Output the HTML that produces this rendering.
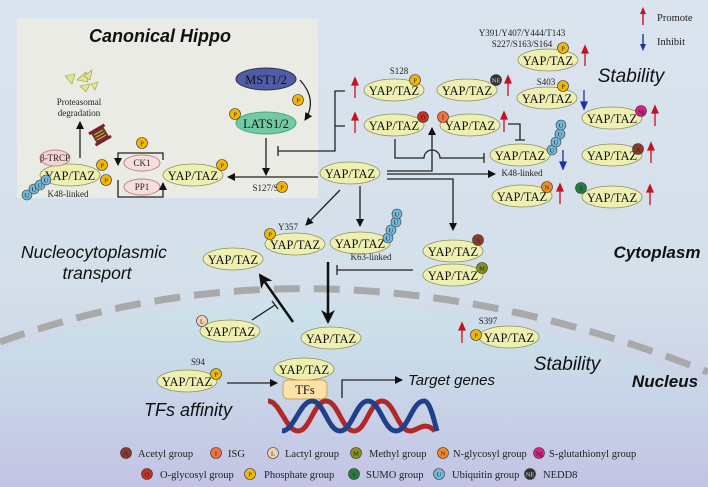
<!DOCTYPE html>
<html><head><meta charset="utf-8"><style>
html,body{margin:0;padding:0;width:708px;height:487px;overflow:hidden;background:#dbe4ee}
svg{display:block}
.y{fill:#eef0b2;stroke:#8f8f60;stroke-width:.8}
.t{font-family:"Liberation Serif",serif;font-size:12.5px;fill:#111;text-anchor:middle}
.s{font-family:"Liberation Serif",serif;font-size:9px;fill:#222;text-anchor:middle}
.b{font-family:"Liberation Serif",serif;font-size:6.5px;fill:#222;text-anchor:middle}
.i{font-family:"Liberation Sans",sans-serif;font-style:italic;fill:#111}
.l{font-family:"Liberation Serif",serif;font-size:10.5px;fill:#222}
.ln{stroke:#222;stroke-width:1.3;fill:none}
</style></head><body>
<svg width="708" height="487" viewBox="0 0 708 487" xmlns="http://www.w3.org/2000/svg">
<defs>
<linearGradient id="bg" x1="0" y1="0" x2="0" y2="1">
<stop offset="0" stop-color="#dbe4ee"/><stop offset="0.6" stop-color="#d3dfea"/><stop offset="1" stop-color="#c4c4e4"/></linearGradient>
<linearGradient id="nu" x1="0" y1="0" x2="0" y2="1">
<stop offset="0" stop-color="#cde2ea"/><stop offset="0.4" stop-color="#c9d8e8"/><stop offset="1" stop-color="#c3c3e4"/></linearGradient>
<marker id="a" markerWidth="8" markerHeight="8" refX="7" refY="4" orient="auto" markerUnits="userSpaceOnUse"><path d="M0,0 L8,4 L0,8 Z" fill="#111"/></marker>
<marker id="A" markerWidth="14" markerHeight="14" refX="12" refY="7" orient="auto" markerUnits="userSpaceOnUse"><path d="M0,0 L14,7 L0,14 L4,7 Z" fill="#111"/></marker>
</defs>
<rect width="708" height="487" fill="url(#bg)"/>
<path d="M0,352 Q330,240 708,386 L708,487 L0,487 Z" fill="url(#nu)"/>
<path d="M0,342 Q330,222 708,372" fill="none" stroke="#a9a9a9" stroke-width="7" stroke-dasharray="26 14"/>

<!-- Canonical Hippo box -->
<rect x="17" y="19" width="301" height="179" fill="#ebebe5"/>
<text x="160" y="42" class="i" font-size="18" font-weight="bold" text-anchor="middle">Canonical Hippo</text>
<ellipse cx="266" cy="79" rx="30" ry="11" fill="#4f5da8" stroke="#334"/><text x="266" y="84" class="t" fill="#fff">MST1/2</text>
<ellipse cx="266" cy="123" rx="30" ry="11" fill="#73c9a3" stroke="#4a8"/><text x="266" y="128" class="t">LATS1/2</text>
<path d="M300,80 Q318,100 305,120" class="ln" marker-end="url(#a)"/>
<path d="M266,138 L266,175" class="ln" marker-end="url(#a)"/>
<path d="M345,91 L335,91 L335,151 L278,151 M278,146 L278,156 M335,126 L345,126" class="ln"/>
<path d="M318,177 L228,177" class="ln" marker-end="url(#a)"/>
<ellipse cx="193" cy="175" rx="30" ry="11" class="y"/><text x="193" y="180" class="t">YAP/TAZ</text>
<text x="270" y="191" class="s">S127/S89</text>
<ellipse cx="142" cy="163" rx="18" ry="8" fill="#f6dede" stroke="#b88"/><text x="142" y="166" class="s">CK1</text>
<ellipse cx="142" cy="187" rx="18" ry="8" fill="#f6dede" stroke="#b88"/><text x="142" y="190" class="s">PP1</text>
<path d="M163,160 L163,153 L118,153 L118,165" class="ln" marker-end="url(#a)"/>
<path d="M118,180 L118,197 L163,197 L163,183" class="ln" marker-end="url(#a)"/>
<ellipse cx="70" cy="175" rx="30" ry="11" class="y"/><text x="70" y="180" class="t">YAP/TAZ</text>
<ellipse cx="55" cy="158" rx="15" ry="8" fill="#f6d2d2" stroke="#b88"/><text x="55" y="161" class="s">β-TRCP</text>
<text x="68" y="197" class="s" font-size="10">K48-linked</text>
<path d="M80,158 L80,122" class="ln" marker-end="url(#a)"/>
<text x="79" y="105" class="s">Proteasomal</text><text x="79" y="116" class="s">degradation</text>
<g fill="#e0e88a" stroke="#9a9a50" stroke-width=".6"><path d="M65,76 L75,74 L72,84 Z"/><path d="M77,80 L86,72 L88,82 Z"/><path d="M84,76 L92,70 L90,80 Z"/><path d="M80,86 L90,84 L86,92 Z"/><path d="M91,84 L98,82 L95,90 Z"/></g>
<g transform="rotate(-30 100 135)"><rect x="93" y="128" width="14" height="14" fill="#6a3a20"/><rect x="91" y="127" width="18" height="3" fill="#7a2030"/><rect x="91" y="140" width="18" height="3" fill="#7a2030"/><path d="M95,132 h10 M95,135 h10 M95,138 h10" stroke="#e0b060" stroke-width="1"/></g>

<!-- right arrows -->
<path d="M387,171 L432,171 L432,128" class="ln" marker-end="url(#a)"/>
<path d="M387,174 L495,174" class="ln" marker-end="url(#a)"/>
<path d="M387,179 L453,179 L453,230" class="ln" marker-end="url(#a)"/>
<path d="M395,139 L395,158 L424,158 A8,8 0 0 1 440,158 L484,158 M484,153 L484,163" class="ln"/>
<path d="M508,124 L520,124 L520,140 M515,140 L525,140" class="ln"/>
<path d="M340,190 L306,225" class="ln" marker-end="url(#a)"/>
<path d="M360,186 L360,226" class="ln" marker-end="url(#a)"/>

<!-- legend top -->
<g stroke="#c81020" stroke-width="1.4"><path d="M643,25 L643,13"/></g><path d="M640,14 L643,7 L646,14 Z" fill="#c81020"/>
<text x="657" y="21" class="l" font-size="12">Promote</text>
<path d="M643,34 L643,45" stroke="#2030a0" stroke-width="1.4"/><path d="M640,44 L643,51 L646,44 Z" fill="#2030a0"/>
<text x="657" y="45" class="l" font-size="12">Inhibit</text>

<text x="522" y="36" class="s">Y391/Y407/Y444/T143</text>
<text x="522" y="47" class="s">S227/S163/S164</text>
<text x="631" y="82" class="i" font-size="19" text-anchor="middle">Stability</text>
<text x="399" y="74" class="s">S128</text>
<text x="546" y="85" class="s">S403</text>
<text x="522" y="176" class="s">K48-linked</text>

<!-- YAP/TAZ ellipses -->
<g>
<ellipse cx="350" cy="173" rx="30" ry="11" class="y"/><text x="350" y="178" class="t">YAP/TAZ</text>
<ellipse cx="548" cy="60" rx="30" ry="11" class="y"/><text x="548" y="65" class="t">YAP/TAZ</text>
<ellipse cx="394" cy="90" rx="30" ry="11" class="y"/><text x="394" y="95" class="t">YAP/TAZ</text>
<ellipse cx="467" cy="90" rx="30" ry="11" class="y"/><text x="467" y="95" class="t">YAP/TAZ</text>
<ellipse cx="547" cy="98" rx="30" ry="11" class="y"/><text x="547" y="103" class="t">YAP/TAZ</text>
<ellipse cx="612" cy="118" rx="30" ry="11" class="y"/><text x="612" y="123" class="t">YAP/TAZ</text>
<ellipse cx="394" cy="125" rx="30" ry="11" class="y"/><text x="394" y="130" class="t">YAP/TAZ</text>
<ellipse cx="470" cy="125" rx="30" ry="11" class="y"/><text x="470" y="130" class="t">YAP/TAZ</text>
<ellipse cx="520" cy="155" rx="30" ry="11" class="y"/><text x="520" y="160" class="t">YAP/TAZ</text>
<ellipse cx="612" cy="155" rx="30" ry="11" class="y"/><text x="612" y="160" class="t">YAP/TAZ</text>
<ellipse cx="522" cy="196" rx="30" ry="11" class="y"/><text x="522" y="201" class="t">YAP/TAZ</text>
<ellipse cx="612" cy="197" rx="30" ry="11" class="y"/><text x="612" y="202" class="t">YAP/TAZ</text>
<ellipse cx="295" cy="244" rx="30" ry="11" class="y"/><text x="295" y="249" class="t">YAP/TAZ</text>
<ellipse cx="360" cy="243" rx="30" ry="11" class="y"/><text x="360" y="248" class="t">YAP/TAZ</text>
<ellipse cx="233" cy="259" rx="30" ry="11" class="y"/><text x="233" y="264" class="t">YAP/TAZ</text>
<ellipse cx="453" cy="251" rx="30" ry="11" class="y"/><text x="453" y="256" class="t">YAP/TAZ</text>
<ellipse cx="453" cy="275" rx="30" ry="11" class="y"/><text x="453" y="280" class="t">YAP/TAZ</text>
<ellipse cx="230" cy="331" rx="30" ry="11" class="y"/><text x="230" y="336" class="t">YAP/TAZ</text>
<ellipse cx="331" cy="338" rx="30" ry="11" class="y"/><text x="331" y="343" class="t">YAP/TAZ</text>
<ellipse cx="509" cy="337" rx="30" ry="11" class="y"/><text x="509" y="342" class="t">YAP/TAZ</text>
<ellipse cx="187" cy="381" rx="30" ry="11" class="y"/><text x="187" y="386" class="t">YAP/TAZ</text>
<ellipse cx="304" cy="369" rx="30" ry="11" class="y"/><text x="304" y="374" class="t">YAP/TAZ</text>
</g>

<!-- red/blue arrows -->
<g fill="#c81020" stroke="#c81020" stroke-width="1.3">
<path d="M585,66 V52" /><path d="M582,53 L585,46 L588,53Z"/>
<path d="M355,98 V84"/><path d="M352,85 L355,78 L358,85Z"/>
<path d="M508,96 V82"/><path d="M505,83 L508,76 L511,83Z"/>
<path d="M655,126 V112"/><path d="M652,113 L655,106 L658,113Z"/>
<path d="M355,133 V119"/><path d="M352,120 L355,113 L358,120Z"/>
<path d="M504,132 V118"/><path d="M501,119 L504,112 L507,119Z"/>
<path d="M651,163 V149"/><path d="M648,150 L651,143 L654,150Z"/>
<path d="M560,204 V190"/><path d="M557,191 L560,184 L563,191Z"/>
<path d="M650,205 V191"/><path d="M647,192 L650,185 L653,192Z"/>
<path d="M462,343 V329"/><path d="M459,330 L462,323 L465,330Z"/>
</g>
<g fill="#2030a0" stroke="#2030a0" stroke-width="1.3">
<path d="M584,90 V103"/><path d="M581,102 L584,109 L587,102Z"/>
<path d="M563,150 V163"/><path d="M560,162 L563,169 L566,162Z"/>
</g>

<!-- badges -->
<g stroke="#333" stroke-width=".6">
<g fill="#f0b800"><circle cx="298" cy="100" r="5.5"/><circle cx="235" cy="114" r="5.5"/><circle cx="222" cy="165" r="5.5"/><circle cx="282" cy="187" r="5.5"/><circle cx="142" cy="143" r="5.5"/><circle cx="102" cy="165" r="5.5"/><circle cx="106" cy="180" r="5.5"/><circle cx="563" cy="48" r="5.5"/><circle cx="415" cy="80" r="5.5"/><circle cx="563" cy="86" r="5.5"/><circle cx="270" cy="234" r="5.5"/><circle cx="476" cy="335" r="5.5"/><circle cx="216" cy="374" r="5.5"/></g>
<circle cx="496" cy="80" r="5.5" fill="#333"/>
<circle cx="641" cy="111" r="5.5" fill="#e0208a"/>
<circle cx="423" cy="117" r="5.5" fill="#c83020"/>
<circle cx="443" cy="117" r="5.5" fill="#f07040"/>
<circle cx="638" cy="149" r="5.5" fill="#8b3a2a"/>
<circle cx="547" cy="187" r="5.5" fill="#f08a20"/>
<circle cx="581" cy="188" r="5.5" fill="#208040"/>
<circle cx="478" cy="240" r="5.5" fill="#8b3a2a"/>
<circle cx="482" cy="268" r="5.5" fill="#8a9020"/>
<circle cx="202" cy="321" r="5.5" fill="#f0d0b0"/>
<g fill="#72b8d8"><circle cx="27" cy="195" r="5"/><circle cx="34" cy="189" r="5"/><circle cx="40" cy="185" r="5"/><circle cx="46" cy="180" r="5"/>
<circle cx="552" cy="150" r="5"/><circle cx="556" cy="142" r="5"/><circle cx="560" cy="134" r="5"/><circle cx="561" cy="125" r="5"/>
<circle cx="388" cy="238" r="5"/><circle cx="391" cy="230" r="5"/><circle cx="396" cy="222" r="5"/><circle cx="397" cy="214" r="5"/></g>
</g>
<g class="b">
<text x="298" y="102.5">P</text><text x="235" y="116.5">P</text><text x="222" y="167.5">P</text><text x="282" y="189.5">P</text><text x="142" y="145.5">P</text><text x="102" y="167.5">P</text><text x="106" y="182.5">P</text><text x="563" y="50.5">P</text><text x="415" y="82.5">P</text><text x="563" y="88.5">P</text><text x="270" y="236.5">P</text><text x="476" y="337.5">P</text><text x="216" y="376.5">P</text>
<text x="496" y="82.5" fill="#ddd">NE</text><text x="641" y="113.5">Sg</text><text x="423" y="119.5">O</text><text x="443" y="119.5">I</text><text x="638" y="151.5">A</text><text x="547" y="189.5">N</text><text x="581" y="190.5">S</text><text x="478" y="242.5">A</text><text x="482" y="270.5">M</text><text x="202" y="323.5">L</text>
<text x="27" y="197.5">U</text><text x="34" y="191.5">U</text><text x="40" y="187.5">U</text><text x="46" y="182.5">U</text>
<text x="552" y="152.5">U</text><text x="556" y="144.5">U</text><text x="560" y="136.5">U</text><text x="561" y="127.5">U</text>
<text x="388" y="240.5">U</text><text x="391" y="232.5">U</text><text x="396" y="224.5">U</text><text x="397" y="216.5">U</text>
</g>

<!-- middle labels -->
<text x="288" y="230" class="s">Y357</text>
<text x="371" y="260" class="s">K63-linked</text>
<text x="657" y="258" class="i" font-size="17" font-weight="bold" text-anchor="middle">Cytoplasm</text>
<text x="94" y="258" class="i" font-size="17.5" text-anchor="middle">Nucleocytoplasmic</text>
<text x="97" y="279" class="i" font-size="17.5" text-anchor="middle">transport</text>
<path d="M328,262 L328,322" stroke="#111" stroke-width="2.5" fill="none" marker-end="url(#A)"/>
<path d="M413,270 L337,270 M337,265 L337,275" class="ln"/>
<path d="M293,322 L260,275" stroke="#111" stroke-width="2.5" fill="none" marker-end="url(#A)"/>
<path d="M252,320 L275,305 M272,301 L278,309" class="ln"/>
<text x="488" y="324" class="s">S397</text>
<text x="567" y="370" class="i" font-size="19" text-anchor="middle">Stability</text>
<text x="665" y="387" class="i" font-size="17" font-weight="bold" text-anchor="middle">Nucleus</text>
<text x="198" y="365" class="s">S94</text>
<path d="M227,383 L277,383" class="ln" marker-end="url(#a)"/>
<rect x="283" y="380" width="44" height="19" rx="5" fill="#fde2a8" stroke="#c9a060"/><text x="305" y="394" class="t">TFs</text>
<path d="M342,398 L342,380 L402,380" class="ln" marker-end="url(#a)"/>
<text x="408" y="385" class="i" font-size="15">Target genes</text>
<text x="188" y="416" class="i" font-size="18" text-anchor="middle">TFs affinity</text>
<!-- DNA -->
<path d="M268,401 C280,401 286,431 298,431 C310,431 314,401 326,401 C338,401 342,431 354,431 C366,431 370,401 382,401 C394,401 398,431 410,431 C418,431 424,420 435,431" fill="none" stroke="#b02828" stroke-width="5"/>
<path d="M282,431 C294,431 300,401 312,401 C324,401 328,431 340,431 C352,431 356,401 368,401 C380,401 384,431 396,431 C408,431 412,401 424,401 C430,401 434,420 437,431" fill="none" stroke="#20408c" stroke-width="5"/>

<!-- legend bottom -->
<g stroke="#333" stroke-width=".6">
<circle cx="126" cy="453" r="5.5" fill="#8b3a2a"/><circle cx="216" cy="453" r="5.5" fill="#f07040"/><circle cx="273" cy="453" r="5.5" fill="#f0d0b0"/><circle cx="356" cy="453" r="5.5" fill="#8a9020"/><circle cx="443" cy="453" r="5.5" fill="#f08a20"/><circle cx="539" cy="453" r="5.5" fill="#e0208a"/>
<circle cx="147" cy="474" r="5.5" fill="#c83020"/><circle cx="250" cy="474" r="5.5" fill="#f0b800"/><circle cx="354" cy="474" r="5.5" fill="#208040"/><circle cx="439" cy="474" r="5.5" fill="#72b8d8"/><circle cx="530" cy="474" r="5.5" fill="#333"/>
</g>
<g class="b"><text x="126" y="455.5">A</text><text x="216" y="455.5">I</text><text x="273" y="455.5">L</text><text x="356" y="455.5">M</text><text x="443" y="455.5">N</text><text x="539" y="455.5">Sg</text><text x="147" y="476.5">O</text><text x="250" y="476.5">P</text><text x="354" y="476.5">S</text><text x="439" y="476.5">U</text><text x="530" y="476.5" fill="#ddd">NE</text></g>
<g class="l">
<text x="138" y="457">Acetyl group</text><text x="228" y="457">ISG</text><text x="285" y="457">Lactyl group</text><text x="369" y="457">Methyl group</text><text x="453" y="457">N-glycosyl group</text><text x="549" y="457">S-glutathionyl group</text>
<text x="160" y="478">O-glycosyl group</text><text x="264" y="478">Phosphate group</text><text x="366" y="478">SUMO group</text><text x="452" y="478">Ubiquitin group</text><text x="543" y="478">NEDD8</text>
</g>
</svg>
</body></html>
